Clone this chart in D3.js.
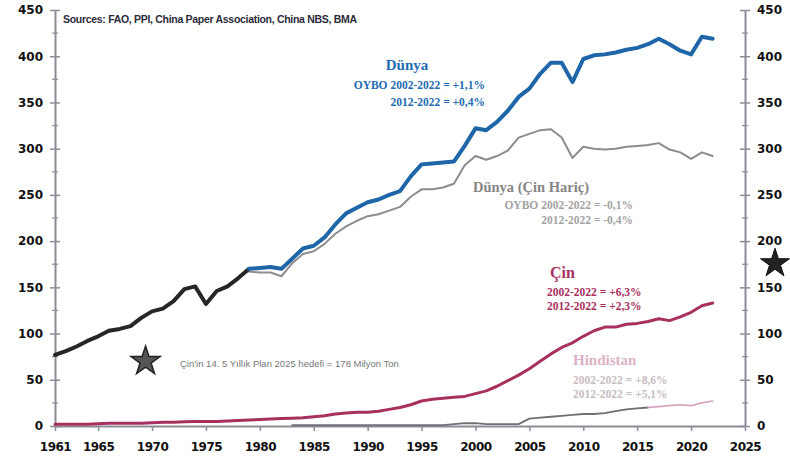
<!DOCTYPE html>
<html>
<head>
<meta charset="utf-8">
<script src="https://cdn.jsdelivr.net/npm/d3@7"></script>
<style>
  html, body { margin: 0; padding: 0; background: #fff; }
  svg { display: block; }
</style>
</head>
<body>
<svg id="chart" width="790" height="461"></svg>
<script>
// Paper & board production, million tonnes
const years = d3.range(1961, 2023);

const dunya = [77, 81, 86, 92, 97, 103, 105, 108, 117, 124,
  127, 135, 148, 151, 132, 146, 151, 160, 170, 171,
  172, 170, 181, 192, 195, 204, 218, 230, 236, 242,
  245, 250, 254, 270, 283, 284, 285, 286, 303, 322,
  320, 329, 341, 356, 365, 381, 393, 393, 372, 397,
  401, 402, 404, 407, 409, 413, 419, 413, 406, 402,
  421, 419];

const hariçYears = d3.range(1979, 2023);
const dunyaHaricCin = [167, 166, 166, 162, 176, 186, 189, 197, 208, 216,
  222, 227, 229, 233, 237, 248, 256, 256, 258, 262,
  282, 292, 288, 292, 298, 312, 316, 320, 321, 312,
  290, 302, 300, 299, 300, 302, 303, 304, 306, 299,
  296, 289, 296, 292];

const cin = [2, 2, 2, 2, 2.5, 3, 3, 3, 3, 3.5,
  4, 4, 4.5, 5, 5, 5, 5.5, 6, 6.5, 7,
  7.5, 8, 8.5, 9, 10, 11, 13, 14, 15, 15,
  16, 18, 20, 23, 27, 29, 30, 31, 32, 35,
  38, 43, 49, 55, 62, 70, 78, 85, 90, 97,
  103, 107, 107, 110, 111, 113, 116, 114, 118, 123,
  130, 133];

const hindYears = d3.range(1983, 2023);
const hindistan = [1, 1, 1, 1, 1, 1, 1, 1, 1, 1,
  1, 1, 1, 1, 1, 2, 3, 3, 2, 2,
  2, 2, 8, 9, 10, 11, 12, 13, 13, 14,
  16, 18, 19, 20, 21, 22, 23, 22, 25, 27];

const xTicks = [1961, 1965, 1970, 1975, 1980, 1985, 1990, 1995, 2000, 2005, 2010, 2015, 2020, 2025];
const yTicks = [0, 50, 100, 150, 200, 250, 300, 350, 400, 450];
const cinHedef = 178;   // 14th five-year plan target for 2025

const svg = d3.select("#chart");
const x = d3.scaleLinear().domain([1961, 2025]).range([55, 745]);
const y = d3.scaleLinear().domain([0, 450]).range([426, 10]);

const axisCol = "#8a8d96";
const tickFont = "DejaVu Sans, sans-serif";

// axes
const gx = svg.append("g").attr("transform", `translate(0,${y(0)})`)
  .call(d3.axisBottom(x).tickValues(xTicks).tickFormat(d3.format("d")).tickSize(5).tickSizeOuter(0));
const gl = svg.append("g").attr("transform", `translate(${x(1961)},0)`)
  .call(d3.axisLeft(y).tickValues(yTicks).tickSize(5).tickSizeOuter(0));
const gr = svg.append("g").attr("transform", `translate(${x(2025)},0)`)
  .call(d3.axisRight(y).tickValues(yTicks).tickSize(5).tickSizeOuter(0));

[gx, gl, gr].forEach(g => {
  g.select(".domain").attr("stroke", axisCol).attr("stroke-width", 2);
  g.selectAll(".tick line").attr("stroke", axisCol).attr("stroke-width", 1.5);
  g.selectAll(".tick text").attr("fill", "#111").attr("font-family", tickFont)
    .attr("font-weight", "bold").attr("font-size", 12);
});
gx.selectAll(".tick text").attr("dy", "1.45em").attr("letter-spacing", -0.5);
gl.selectAll(".tick text").attr("x", -12);
gr.selectAll(".tick text").attr("x", 12);
// short ticks crossing the vertical axes
gl.selectAll(".tick line").attr("x1", 5);
gr.selectAll(".tick line").attr("x1", -5);

// minor ticks on the vertical axes
const minors = d3.range(25, 450, 50);
[x(1961), x(2025)].forEach(px => {
  svg.append("g").selectAll("line").data(minors).join("line")
    .attr("x1", px - 3).attr("x2", px + 3)
    .attr("y1", d => y(d)).attr("y2", d => y(d))
    .attr("stroke", axisCol).attr("stroke-width", 1.2);
});

const line = d3.line().x(d => x(d[0])).y(d => y(d[1])).curve(d3.curveLinear);
const pairs = (ys, vs) => ys.map((yr, i) => [yr, vs[i]]);

const world = pairs(years, dunya);
const china = pairs(years, cin);
const exChina = pairs(hariçYears, dunyaHaricCin);
const india = pairs(hindYears, hindistan);

function draw(data, color, width) {
  svg.append("path").datum(data).attr("d", line)
    .attr("fill", "none").attr("stroke", color).attr("stroke-width", width)
    .attr("stroke-linejoin", "round").attr("stroke-linecap", "round");
}

// India: grey until 2015, light pink after
draw(india.filter(d => d[0] <= 2016), "#6f6f75", 1.8);
draw(india.filter(d => d[0] >= 2016), "#d9a3bd", 1.6);
// China
draw(china, "#a8305e", 3);
// World excl. China
draw(exChina, "#8c8c8c", 2);
// World: black to 1979, blue afterwards
draw(world.filter(d => d[0] <= 1979), "#262626", 4);
draw(world.filter(d => d[0] >= 1979), "#1e66a8", 4);

// labels
const serif = "Liberation Serif, Times New Roman, serif";
function label(txt, px, py, size, color, anchor) {
  svg.append("text").attr("x", px).attr("y", py).text(txt)
    .attr("font-family", serif).attr("font-weight", "bold")
    .attr("font-size", size).attr("fill", color).attr("text-anchor", anchor || "start");
}

label("Dünya", 407, 70, 15, "#1e6cb2", "middle");
label("OYBO 2002-2022 = +1,1%", 485, 89, 11.5, "#1e6cb2", "end");
label("2012-2022 = +0,4%", 485, 106, 11.5, "#1e6cb2", "end");

label("Dünya (Çin Hariç)", 473, 192, 14.5, "#858585");
label("OYBO 2002-2022 = -0,1%", 633, 209, 11.5, "#a3a3a3", "end");
label("2012-2022 = -0,4%", 633, 224, 11.5, "#a3a3a3", "end");

label("Çin", 550, 278, 16, "#a8305e");
label("2002-2022 = +6,3%", 547, 296, 11.5, "#a8305e");
label("2012-2022 = +2,3%", 547, 310, 11.5, "#a8305e");

label("Hindistan", 573, 365, 15, "#dbb2c6");
label("2002-2022 = +8,6%", 573, 384, 11.5, "#c9bcc2");
label("2012-2022 = +5,1%", 573, 398, 11.5, "#c9bcc2");

// source
svg.append("text").attr("x", 63).attr("y", 23)
  .text("Sources: FAO, PPI, China Paper Association, China NBS, BMA")
  .attr("font-family", "Liberation Sans, Arial, sans-serif").attr("font-weight", "bold")
  .attr("font-size", 10.5).attr("fill", "#2a2a3a").attr("letter-spacing", -0.3);

// China 2025 target stars
const star = d3.symbol().type(d3.symbolStar).size(260);
svg.append("path").attr("d", star)
  .attr("transform", `translate(${x(1969.4)},${y(70)})`)
  .attr("fill", "#555").attr("stroke", "#222").attr("stroke-width", 1.5);
svg.append("text").attr("x", 180).attr("y", 367)
  .text("Çin'in 14. 5 Yıllık Plan 2025 hedefi = 178 Milyon Ton")
  .attr("font-family", "Liberation Sans, Arial, sans-serif")
  .attr("font-size", 9.5).attr("fill", "#777");

svg.append("path").attr("d", star)
  .attr("transform", `translate(${x(2025) + 30},${y(cinHedef) + 2})`)
  .attr("fill", "#222").attr("stroke", "#111").attr("stroke-width", 1);
</script>
</body>
</html>
